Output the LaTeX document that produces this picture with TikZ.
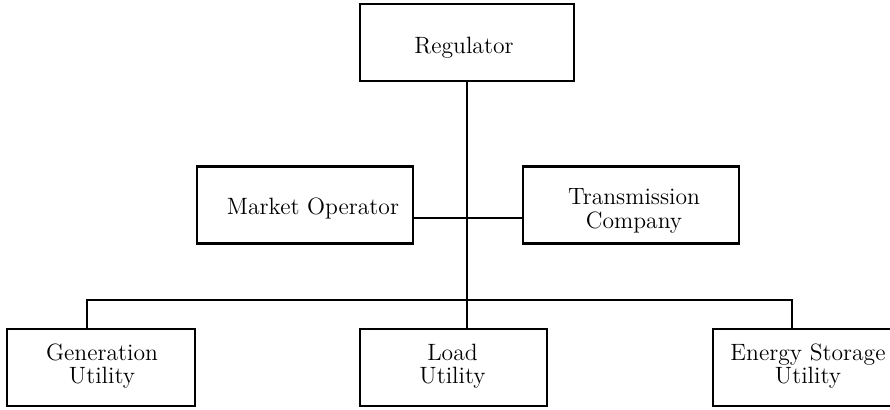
\documentclass[tikz,border=0pt]{standalone}
\usetikzlibrary{calc}
\begin{document}
\begin{tikzpicture}[x=0.5pt,y=-0.5pt,
  box/.style={draw=black, line width=1.3pt, minimum height=38.5pt, inner sep=0pt},
  lbl/.style={anchor=base, inner sep=0pt, font=\fontsize{11.8}{11.7}\selectfont},
  conn/.style={draw=black, line width=1.3pt}]
\useasboundingbox (0,0) rectangle (890,409);
\clip (0,0) rectangle (890,409);
% boxes
\node[box, minimum width=107pt] (reg) at (467,42.5) {};
\node[box, minimum width=108pt] (mo) at (305,205) {};
\node[box, minimum width=108pt] (tc) at (631,205) {};
\node[box, minimum width=94pt] (gen) at (101,367.5) {};
\node[box, minimum width=93.5pt] (load) at (453.5,367.5) {};
\node[box, minimum width=94pt] (es) at (807,367.5) {};
% labels
\node[lbl] (regL) at (464,53) {Regulator};
\node[lbl] (moL) at (313,214) {Market Operator};
\node[lbl] (tcL) at (634,204.5) {\begin{tabular}[t]{@{}c@{}}Transmission\\Company\end{tabular}};
\node[lbl] (genL) at (102,360) {\begin{tabular}[t]{@{}c@{}}Generation\\Utility\hspace{6pt}\end{tabular}};
\node[lbl] (loadL) at (452.5,360) {\begin{tabular}[t]{@{}c@{}}Load\\Utility\end{tabular}};
\node[lbl] (esL) at (808,360) {\begin{tabular}[t]{@{}c@{}}Energy Storage\\Utility\hspace{3pt}\end{tabular}};
% connectors
\coordinate (bus) at (467,300);
\coordinate (mid) at (467,218);
\coordinate (gd) at (87,300);
\coordinate (ed) at (792,300);
\draw[conn] (reg.south) -- (bus) -- (bus |- load.north);
\draw[conn] (mid -| mo.east) -- (mid -| tc.west);
\draw[conn] (gen.north -| gd) -- (gd) -- (ed) -- (es.north -| ed);
\end{tikzpicture}
\end{document}
